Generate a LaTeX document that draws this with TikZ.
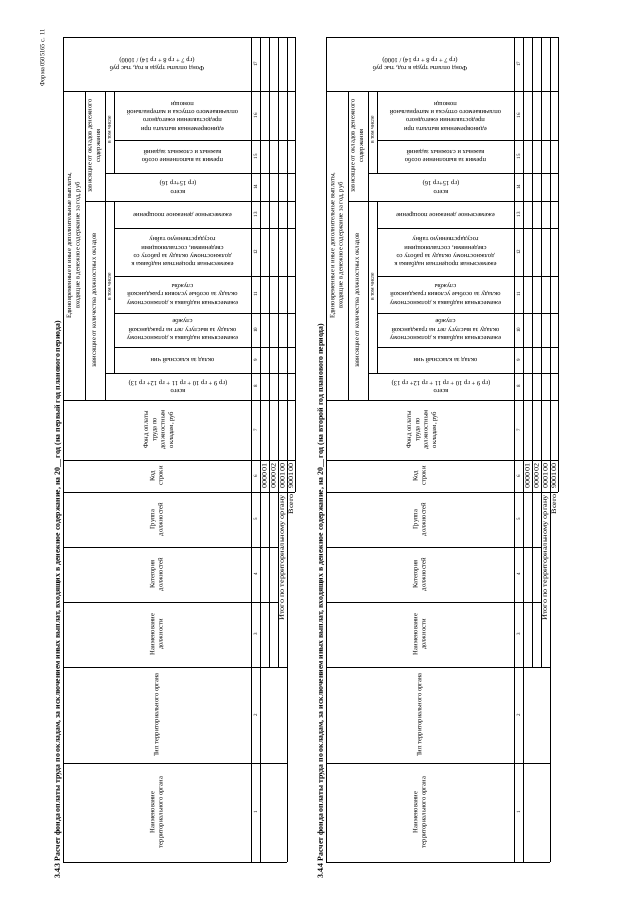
\documentclass[tikz,border=0pt]{standalone}
\usepackage{fontspec}
\usepackage{graphicx}
\setmainfont{Liberation Serif}
\tikzset{
  hd/.style={font=\fontsize{6.6}{8.4}\selectfont, align=center, inner sep=0pt},
  hdr/.style={hd, rotate=90},
  hdu/.style={hd, rotate=180},
  numtxt/.style={font=\fontsize{5}{6}\selectfont, rotate=90, inner sep=0pt},
  codetxt/.style={font=\fontsize{6.8}{7}\selectfont, rotate=90, inner sep=0pt},
  ttl/.style={font=\bfseries\fontsize{7.8}{8}\selectfont, rotate=90, inner sep=0pt, anchor=west},
  ln/.style={line width=0.5pt},
  bl/.style={line width=0.9pt},
}
\newcommand\formtable[3]{%
\begin{scope}[xshift=#1pt, name prefix=#2]
  % title
  \node[ttl] (title) at (58,879) {#3};
  % header frame
  \draw[ln] (63,37) -- (63,862);
  \draw[ln] (63,37) -- (295,37);
  \draw[ln] (63,862) -- (287,862);
  \draw[bl] (251,37) -- (251,862);
  \draw[bl] (260,37) -- (260,862);
  \foreach \y in {91,400,460,492} \draw[ln] (63,\y) -- (295,\y);
  \foreach \y in {547,602} \draw[ln] (63,\y) -- (278,\y);
  \foreach \y in {667,763} \draw[ln] (63,\y) -- (287,\y);
  \draw[ln] (85,91) -- (85,400);
  \draw[ln] (105,91) -- (105,400);
  \draw[ln] (85,201) -- (295,201);
  \draw[ln] (105,173) -- (295,173);
  \draw[ln] (105,373) -- (295,373);
  \draw[ln] (114,91) -- (114,173);
  \draw[ln] (114,201) -- (114,373);
  \foreach \y in {140,228,276,313,347} \draw[ln] (114,\y) -- (295,\y);
  % data rows
  \foreach \x in {269,278} \draw[ln] (\x,37) -- (\x,667);
  \draw[ln] (287,37) -- (287,862);
  \draw[bl] (295,37) -- (295,492);
  % column numbers
  \foreach \n/\y in {1/812.5,2/715,3/634.5,4/574.5,5/519.5,6/476,7/430,8/386.5,9/360,10/330,11/294.5,12/252,13/214.5,14/187,15/156.5,16/115.5,17/64}
    \node[numtxt] (n\n) at (255.5,\y) {\n};
  % row codes
  \node[codetxt] (c1) at (264.5,476) {\scalebox{1.2}[1]{000001}};
  \node[codetxt] (c2) at (273.5,476) {\scalebox{1.2}[1]{000002}};
  \node[codetxt] (c3) at (282.5,476) {\scalebox{1.2}[1]{000100}};
  \node[codetxt] (c4) at (291,476) {\scalebox{1.2}[1]{900100}};
  \node[codetxt, anchor=east] (itogo) at (282.5,495) {\scalebox{1.22}[1]{Итого по территориальному органу}};
  \node[codetxt, anchor=east] (vsego) at (291,494) {\scalebox{1.2}[1]{Всего}};
  % headers cols 1-7
  \node[hdr] (h1) at (157,812.5) {Наименование\\территориального органа};
  \node[hdr] (h2) at (157,715) {Тип территориального органа};
  \node[hdr] (h3) at (157,634.5) {Наименование\\должности};
  \node[hdr] (h4) at (157,574.5) {Категория\\должностей};
  \node[hdr] (h5) at (157,519.5) {Группа\\должностей};
  \node[hdr] (h6) at (157,476) {Код\\строки};
  \node[hdr] (h7) at (159,430) {Фонд оплаты\\труда по\\должностным\\окладам, руб};
  % group headers
  \node[hdr] (g1) at (74,245.5) {Единовременные и иные дополнительные выплаты,\\входящие в денежное содержание за год, руб};
  \node[hdr] (g2) at (95,300.5) {зависящие от количества должностных окладов};
  \node[hdr] (g3) at (95,146) {зависящие от окладов денежного\\содержания};
  \node[hdr, font=\fontsize{5.6}{6}\selectfont] (g4) at (109.5,287) {в том числе};
  \node[hdr, font=\fontsize{5.6}{6}\selectfont] (g5) at (109.5,130) {в том числе};
  % headers cols 8-17 (upside down)
  \node[hdu] (h8) at (178,386.5) {всего\\(гр 9 + гр 10 + гр 11 + гр 12+ гр 13)};
  \node[hdu] (h9) at (182.5,360) {оклад за классный чин};
  \node[hdu] (h10) at (182.5,330) {ежемесячная надбавка к должностному\\окладу  за выслугу лет на гражданской\\службе};
  \node[hdu] (h11) at (182.5,294.5) {ежемесячная надбавка к должностному\\окладу за особые условия гражданской\\службы};
  \node[hdu] (h12) at (182.5,252) {ежемесячная процентная надбавка к\\должностному окладу за работу со\\сведениями, составляющими\\государственную тайну};
  \node[hdu] (h13) at (182.5,214.5) {ежемесячное денежное поощрение};
  \node[hdu] (h14) at (178,187) {всего\\(гр 15+гр 16)};
  \node[hdu] (h15) at (182.5,156.5) {премия за выполнение особо\\важных и сложных заданий};
  \node[hdu] (h16) at (182.5,115.5) {единовременная выплата при\\предоставлении ежегодного\\оплачиваемого отпуска и материальной\\помощи};
  \node[hdu] (h17) at (157,64) {Фонд оплаты труда в год, тыс руб\\(гр 7 + гр 8 + гр 14) / 1000)};
\end{scope}}
\begin{document}
\begin{tikzpicture}[x=1pt, y=-1pt]
  \useasboundingbox (0,0) rectangle (640,905);
  \fill[white] (0,0) rectangle (640,905);
  \node[font=\fontsize{6.4}{7}\selectfont, rotate=90, inner sep=0pt] (forma) at (43,58) {Форма 0505165 с. 11};
  \formtable{0}{ta-}{3.4.3 Расчет фонда оплаты труда по окладам, за исключением иных выплат, входящих в денежное содержание, на 20\_\_ год (на первый год планового периода)}
  \formtable{263}{tb-}{3.4.4 Расчет фонда оплаты труда по окладам, за исключением иных выплат, входящих в денежное содержание, на 20\_\_ год (на второй год планового периода)}
\end{tikzpicture}
\end{document}
